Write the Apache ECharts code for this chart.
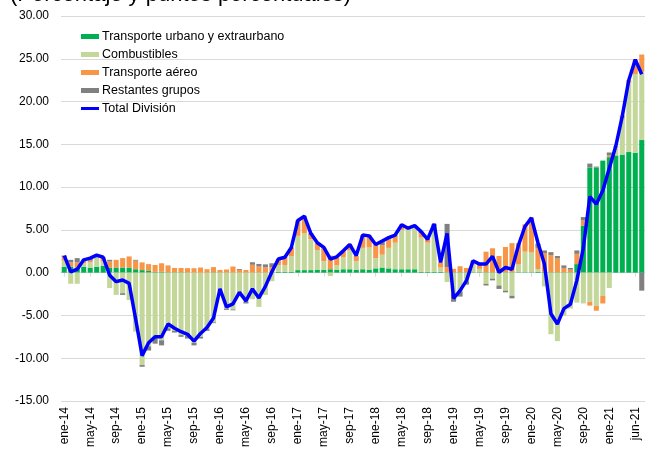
<!DOCTYPE html>
<html>
<head>
<meta charset="utf-8">
<script src="https://cdn.jsdelivr.net/npm/echarts@6/dist/echarts.min.js"></script>
<style>
  html, body { margin: 0; padding: 0; background: #fff; }
  #chart { width: 645px; height: 454px; }
</style>
</head>
<body>
<div id="chart"></div>
<script>
// months ene-14 .. jun-21
const monthNames = ["ene", "feb", "mar", "abr", "may", "jun", "jul", "ago", "sep", "oct", "nov", "dic"];
const years = [14, 15, 16, 17, 18, 19, 20, 21];
const lastMonthIdx = 5; // jun-21

const categories = [];
years.forEach(y => {
  monthNames.forEach((m, k) => {
    if (y === 21 && k > lastMonthIdx) return;
    categories.push(m + "-" + y);
  });
});

const urbano = [0.7,0.7,0.6,0.7,0.6,0.7,0.8,0.6,0.6,0.6, 0.6,0.4,0.3,0.2,0.1,0.1,0.05,0.05,0.05,0.03,
  0.02,0,0,0.05,0.02,0.02,0.02,0.02,0.02,0.02, 0.02,0.02,0.05,0.1,0.1,0.1,0.3,0.3,0.3,0.35,
  0.35,0.4,0.35,0.4,0.4,0.35,0.4,0.35,0.5,0.6, 0.5,0.4,0.4,0.4,0.4,0.1,0.1,0.1,0.1,0.05,
  0.05,0.05,0.05,0.05,0.05,0.05,0.05,0.05,0.05,0.05, 0.05,0.05,0.05,0.1,0.1,0.05,0.05,0.05,0.05,1.0,
  5.5,12.3,12.3,13.1,13.5,13.7,13.8,14.1,14.0,15.5];

const combustibles = [0.7,-1.3,-1.3,0.4,0.6,1.2,0.5,-1.8,-2.6,-2.4, -3.2,-6.9,-10.8,-8.6,-7.6,-7.9,-6.5,-6.8,-7.3,-7.4,
  -8.2,-7.5,-6.6,-5.8,-2.2,-4.2,-4.3,-2.7,-3.4,-3.1, -4.0,-2.6,-1.0,0.8,0.8,1.85,4.0,4.3,3.6,2.3,
  1.0,-0.4,0.5,1.4,2.2,1.0,2.5,2.6,1.2,1.5, 2.4,3.1,4.6,4.6,5.0,4.0,3.4,4.8,0.5,-1.1,
  -2.5,-2.2,-1.0,0.9,0.4,-1.3,-0.7,-1.5,-2.1,-2.7, 0.9,2.4,2.3,0.3,-1.6,-7.2,-8.0,-5.0,-4.2,-3.5,
  -3.6,-3.4,-3.9,-2.7,-1.8,1.0,4.2,8.1,9.2,8.0];

const aereo = [0.4,0.5,0.6,0.3,0.2,0.15,0.5,0.7,0.9,1.1, 1.3,1.0,0.9,0.8,0.8,1.0,0.8,0.5,0.5,0.5,
  0.5,0.6,0.4,0.6,0.3,0.35,0.7,0.3,0.3,0.9, 0.7,0.6,0.6,0.6,0.8,1.0,1.8,2.0,0.5,0.8,
  1.6,1.6,1.0,0.8,0.7,0.6,1.5,1.4,1.6,1.1, 1.0,0.9,0.6,0.2,0.1,0.5,0.5,0.5,0.6,0.6,
  0.4,0.7,0.5,0.45,0.6,2.4,2.8,1.9,2.95,3.4, 2.5,3.2,4.1,2.5,2.2,2.0,1.6,0.5,0.3,1.2,
  0.6,-0.45,-0.55,-0.9,0.2,0.1,0.4,0.3,1.7,2.0];

const restantes = [0.2,0.3,0.5,0.1,0.3,0,0,0.2,0,-0.2, 0,0.1,-0.2,-0.5,-0.7,-0.6,-0.3,-0.2,-0.2,-0.3,
  -0.3,-0.2,-0.2,-0.1,0,-0.15,-0.1,0.1,-0.2,0.3, 0.3,0.35,0.45,0.1,0.1,0,0,0,0.2,0,
  0,0,0,0,0,0,0,0,0,0.5, 0.2,0,0,0,0,0.2,0,0.3,0,5.05,
  -0.9,-0.6,-0.4,0,0,-0.2,-0.2,-0.4,-0.2,-0.3, 0,0,0,0.5,0.3,0.35,0.3,0.3,0.2,0.4,
  0.4,0.45,0.1,0,0.35,0,0,0,0,-2.1];

const totalDivision = [2.0,0.1,0.4,1.5,1.7,2.05,1.8,-0.3,-1.05,-0.85, -1.25,-5.4,-9.7,-8.2,-7.5,-7.5,-6.0,-6.5,-6.9,-7.2,
  -8.0,-7.1,-6.4,-5.3,-1.9,-4.0,-3.65,-2.3,-3.3,-1.9, -2.95,-1.6,0.1,1.6,1.8,2.95,6.1,6.6,4.6,3.5,
  2.95,1.6,1.85,2.55,3.3,2.0,4.4,4.3,3.3,3.7, 4.1,4.4,5.6,5.2,5.5,4.8,3.9,5.7,1.2,4.6,
  -3.0,-2.1,-0.9,1.4,1.0,1.0,1.9,0.05,0.6,0.4, 3.2,5.4,6.4,3.5,1.0,-4.8,-6.0,-4.2,-3.7,-0.9,
  2.9,8.9,8.0,9.6,12.2,14.8,18.3,22.5,24.9,23.2];

const font = "'Liberation Sans', Arial, sans-serif";
const lastIdx = categories.length - 1;
// every 4th month up to ene-21, plus the last month
const showLabel = idx => (idx % 4 === 0 && idx <= lastIdx - 5) || idx === lastIdx;

const chart = echarts.init(document.getElementById("chart"), null, { renderer: "canvas" });

const barSeries = (name, data, color) => ({
  name, type: "bar", stack: "t", data,
  barWidth: "78%",
  itemStyle: { color },
  emphasis: { disabled: true }
});

chart.setOption({
  animation: false,
  graphic: [{
    type: "text", left: 10, top: -16,
    style: { text: "(Porcentaje y puntos porcentuales)", fontSize: 22, fill: "#000", fontFamily: font }
  }],
  legend: {
    orient: "vertical", left: 81, top: 30, padding: 0,
    itemWidth: 18, itemHeight: 5, itemGap: 5,
    textStyle: { fontSize: 12.5, color: "#000", fontFamily: font, lineHeight: 13, padding: [0, 0, 0, -2] },
    data: [
      { name: "Transporte urbano y extraurbano", icon: "rect" },
      { name: "Combustibles", icon: "rect" },
      { name: "Transporte aéreo", icon: "rect" },
      { name: "Restantes grupos", icon: "rect" },
      { name: "Total División", icon: "path://M0 0H60V10H0Z" }
    ]
  },
  grid: { left: 61, right: 0, top: 16, bottom: 53 },
  xAxis: [
    {
      type: "category", data: categories, position: "bottom",
      axisLine: { show: false, onZero: false },
      axisTick: { show: false },
      axisLabel: {
        rotate: 90, interval: 0, margin: 6,
        fontSize: 12, color: "#000", fontFamily: font,
        formatter: (v, idx) => !showLabel(idx) ? "" : (idx === lastIdx ? "{l|" + v + "}" : v),
        rich: { l: { fontSize: 12, color: "#000", fontFamily: font, padding: [0, 0, 12, 0] } }
      }
    },
    {
      type: "category", data: categories, position: "bottom",
      axisLine: { show: true, onZero: true, lineStyle: { color: "#d9d9d9", width: 1 } },
      axisTick: { show: true, alignWithLabel: true, interval: idx => idx % 4 === 0, length: 4, lineStyle: { color: "#d9d9d9" } },
      axisLabel: { show: false }
    }
  ],
  yAxis: {
    type: "value", min: -15, max: 30, interval: 5,
    axisLine: { show: false }, axisTick: { show: false },
    splitLine: { lineStyle: { color: "#d9d9d9", width: 1 } },
    axisLabel: { fontSize: 12, color: "#000", fontFamily: font, margin: 12, formatter: v => v.toFixed(2) }
  },
  series: [
    barSeries("Transporte urbano y extraurbano", urbano, "#00b050"),
    barSeries("Combustibles", combustibles, "#c4d79b"),
    barSeries("Transporte aéreo", aereo, "#f79646"),
    barSeries("Restantes grupos", restantes, "#808080"),
    {
      name: "Total División", type: "line", data: totalDivision,
      symbol: "none", z: 5,
      lineStyle: { color: "#0000ff", width: 3.5 },
      itemStyle: { color: "#0000ff" },
      emphasis: { disabled: true }
    }
  ]
});
</script>
</body>
</html>
